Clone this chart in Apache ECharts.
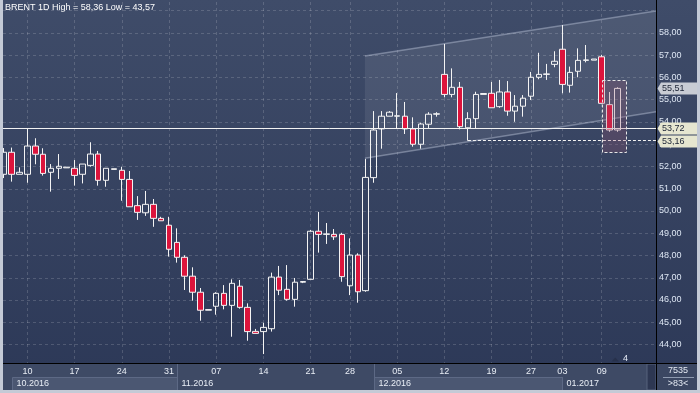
<!DOCTYPE html>
<html><head><meta charset="utf-8">
<script src="https://cdn.jsdelivr.net/npm/echarts@6/dist/echarts.min.js"></script>
<style>html,body{margin:0;padding:0;background:#2f3b58;}#c{width:700px;height:393px;}</style>
</head><body><div id="c"></div>
<script>
// ---- data ----
const dates = [
 '2016-10-06','2016-10-07','2016-10-09','2016-10-10','2016-10-11','2016-10-12','2016-10-13','2016-10-14',
 '2016-10-16','2016-10-17','2016-10-18','2016-10-19','2016-10-20','2016-10-21','2016-10-23','2016-10-24',
 '2016-10-25','2016-10-26','2016-10-27','2016-10-28','2016-10-30','2016-10-31','2016-11-01','2016-11-02',
 '2016-11-03','2016-11-04','2016-11-06','2016-11-07','2016-11-08','2016-11-09','2016-11-10','2016-11-11',
 '2016-11-13','2016-11-14','2016-11-15','2016-11-16','2016-11-17','2016-11-18','2016-11-20','2016-11-21',
 '2016-11-22','2016-11-23','2016-11-24','2016-11-25','2016-11-28','2016-11-29','2016-11-30','2016-12-01',
 '2016-12-02','2016-12-04','2016-12-05','2016-12-06','2016-12-07','2016-12-08','2016-12-09','2016-12-11',
 '2016-12-12','2016-12-13','2016-12-14','2016-12-15','2016-12-16','2016-12-18','2016-12-19','2016-12-20',
 '2016-12-21','2016-12-22','2016-12-23','2016-12-27','2016-12-28','2016-12-29','2016-12-30','2017-01-03',
 '2017-01-04','2017-01-05','2017-01-06','2017-01-08','2017-01-09','2017-01-10','2017-01-11'
];
const opens = [
 51.65,52.64,51.65,51.65,52.92,52.55,51.74,51.92,51.94,51.92,51.65,52.05,52.56,51.38,51.87,51.83,
 51.42,50.24,49.92,50.30,49.67,49.36,48.59,47.92,47.07,46.35,45.54,45.72,46.30,45.76,46.62,45.67,
 44.59,44.58,44.71,47.03,46.48,46.03,46.80,46.93,49.09,48.95,48.95,48.95,46.64,48.02,46.42,51.50,
 53.69,54.26,54.26,54.26,53.69,53.00,53.90,54.35,56.14,55.24,55.56,53.74,54.15,55.24,55.29,54.69,
 55.35,54.49,54.71,55.16,56.01,56.14,56.59,57.27,55.65,56.28,56.77,56.78,56.93,54.78,53.64
];
const closes = [
 52.64,51.65,51.74,52.92,52.55,51.69,51.92,52.01,51.97,51.60,52.11,52.56,51.38,51.92,51.90,51.42,
 50.19,49.94,50.30,49.67,49.56,48.28,47.92,47.07,46.35,45.54,45.57,46.30,45.76,46.75,45.67,44.58,
 44.50,44.77,47.03,46.44,46.03,46.80,46.83,49.09,48.95,48.97,48.84,47.05,48.02,46.37,51.51,53.64,
 54.26,54.44,54.28,53.69,53.00,53.91,54.35,54.37,55.24,55.56,53.79,54.15,55.24,55.28,54.64,55.35,
 54.49,54.71,55.07,56.01,56.14,56.16,56.73,55.69,56.23,56.77,56.79,56.83,54.84,53.64,55.51
];
const lows = [
 51.48,51.32,51.65,51.27,52.10,51.59,50.87,51.44,51.94,51.14,51.24,51.99,51.14,51.09,51.87,50.46,
 50.19,49.60,49.78,49.29,49.56,47.95,47.68,46.45,45.97,45.07,45.54,45.34,45.58,44.35,45.61,44.17,
 44.49,43.57,44.58,46.22,45.97,45.70,46.76,46.93,48.13,48.52,48.70,46.82,46.22,45.88,46.37,51.27,
 52.80,54.26,53.70,53.46,52.89,52.80,53.72,54.24,55.11,55.11,53.67,53.16,53.72,55.24,54.64,54.64,
 54.28,54.01,54.24,54.99,55.92,55.89,56.46,55.29,55.32,56.01,56.68,56.78,54.84,53.56,53.56
];
const highs = [
 52.83,52.85,51.96,53.69,53.27,52.82,52.11,52.56,51.97,52.29,52.11,53.09,52.70,51.92,51.90,51.99,
 51.80,50.67,50.90,50.54,49.74,49.74,49.22,48.01,47.47,46.54,45.57,46.35,46.67,46.93,46.90,45.85,
 44.70,44.97,47.23,47.53,47.57,46.99,46.85,49.15,49.96,49.46,49.19,49.02,48.77,48.10,52.34,54.49,
 54.49,54.49,55.30,54.90,54.21,53.97,54.44,54.44,57.51,56.41,55.80,54.44,55.36,55.28,55.80,55.89,
 55.84,55.21,55.21,56.25,57.11,56.61,57.18,58.36,56.49,57.31,57.46,56.83,57.02,55.35,55.56
];
const dayLabelIdx = [3,9,15,21,27,33,39,44,50,56,62,67,71,76];
const monthNames = ['10.2016','11.2016','12.2016','01.2017'];
const monthStartIdx = [1,22,47,71];
const yLabelValues = [44,45,46,47,48,49,50,51,52,53,54,55,56,57,58];
const titleText = 'BRENT 1D High = 58,36 Low = 43,57';
const hLineValue = 53.72;
const lastClose = 55.51;
const lowLineValue = 53.16;
const lowLineStartIdx = 59;
const channelX = [45.9, 82.9];
const channelUpper = [56.97, 58.99];
const channelLower = [52.37, 54.46];
const boxX = [76, 79];
const boxY = [52.64, 55.87];
const markerCount = '4';
const panelTop = '7535';
const panelBottom = '>83<';

// ---- chart ----
const FONT = 'Liberation Sans, Arial, sans-serif';
const xMin = -0.1, xMax = 82.9;
const yMin = 43.169, yMax = 59.393;
const ohlc = dates.map((d, i) => [i, opens[i], closes[i], lows[i], highs[i]]);
const fmt = v => v.toFixed(2).replace('.', ',');

const chart = echarts.init(document.getElementById('c'), null, {renderer: 'canvas', width: 700, height: 393});
const gridLine = {color: 'rgba(255,255,255,0.16)', type: [3, 3], width: 1};

chart.setOption({
  animation: false,
  textStyle: {fontFamily: FONT},
  title: {text: titleText, left: 5, top: 3, padding: 0,
    textStyle: {color: '#ffffff', fontSize: 9, fontWeight: 'normal', fontFamily: FONT}},
  grid: {left: 3, right: 44, top: 2, bottom: 30, containLabel: false, outerBoundsMode: 'none'},
  xAxis: {
    type: 'value', min: xMin, max: xMax,
    axisLine: {show: false},
    axisTick: {show: false, customValues: dayLabelIdx},
    axisLabel: {customValues: dayLabelIdx, formatter: v => dates[Math.round(v)].slice(8, 10),
      color: '#e8edf5', fontSize: 9, margin: 4, fontFamily: FONT},
    splitLine: {show: true, lineStyle: gridLine}
  },
  yAxis: {
    type: 'value', position: 'right', min: yMin, max: yMax, minInterval: 1, maxInterval: 1, splitNumber: 16,
    axisLine: {show: false}, axisTick: {show: false},
    axisLabel: {formatter: v => (yLabelValues.indexOf(Math.round(v)) >= 0 && Math.abs(v - Math.round(v)) < 1e-6) ? fmt(v) : '',
      color: '#dde6f3', fontSize: 9, margin: 3, fontFamily: FONT},
    splitLine: {show: true, showMinLine: false, showMaxLine: false, lineStyle: gridLine}
  },
  series: [
    {
      type: 'custom', z: 1, silent: true, data: [[channelX[0], channelUpper[0]]],
      renderItem: function (params, api) {
        const p1 = api.coord([channelX[0], channelUpper[0]]);
        const p2 = api.coord([channelX[1], channelUpper[1]]);
        const p3 = api.coord([channelX[1], channelLower[1]]);
        const p4 = api.coord([channelX[0], channelLower[0]]);
        return {type: 'group', children: [
          {type: 'polygon', shape: {points: [p1, p2, p3, p4]}, style: {fill: 'rgba(255,255,255,0.08)'}},
          {type: 'line', shape: {x1: p1[0], y1: p1[1], x2: p2[0], y2: p2[1]}, style: {stroke: 'rgba(190,200,220,0.45)', lineWidth: 1.5}},
          {type: 'line', shape: {x1: p4[0], y1: p4[1], x2: p3[0], y2: p3[1]}, style: {stroke: 'rgba(190,200,220,0.45)', lineWidth: 1.5}}
        ]};
      }
    },
    {
      type: 'candlestick', z: 2, data: ohlc, barWidth: 6, clip: true,
      emphasis: {disabled: true},
      itemStyle: {color: 'rgba(0,0,0,0)', color0: '#dc143c', borderColor: '#f4f4f4', borderColor0: '#f4f4f4', borderWidth: 1},
      markLine: {
        symbol: ['none', 'none'], silent: true, animation: false, label: {show: false},
        data: [
          {yAxis: hLineValue, lineStyle: {color: '#f2f2f2', width: 1, type: 'solid'}},
          [{coord: [lowLineStartIdx, lowLineValue], lineStyle: {color: '#f2f2f2', width: 1, type: [3, 2]}},
           {coord: [xMax, lowLineValue]}]
        ]
      }
    },
    {
      type: 'custom', z: 5, silent: true, data: [[boxX[0], boxY[0]]],
      renderItem: function (params, api) {
        const a = api.coord([boxX[0], boxY[1]]);
        const b = api.coord([boxX[1], boxY[0]]);
        const x = Math.round(a[0]) + 0.5, y = Math.round(a[1]) + 0.5;
        return {type: 'rect', shape: {x: x, y: y, width: Math.round(b[0] - a[0]), height: Math.round(b[1] - a[1])},
          style: {fill: 'rgba(150,80,110,0.26)', stroke: '#e6e6e6', lineWidth: 1, lineDash: [3, 2]}};
      }
    }
  ]
});

// ---- decorations using axis pixel positions ----
const px = (x, y) => chart.convertToPixel({gridIndex: 0}, [x, y]);
const yOf = v => px(0, v)[1];
const xOf = i => px(i, 50)[0];
const g = [];
g.push({type: 'rect', z: -100, shape: {x: 0, y: 0, width: 700, height: 393},
  style: {fill: new echarts.graphic.LinearGradient(0, 0, 0, 1, [{offset: 0, color: '#3f4c69'}, {offset: 1, color: '#2c3857'}])}});
// x-axis panel
g.push({type: 'rect', z: -50, shape: {x: 3, y: 363, width: 694, height: 27}, style: {fill: '#3e4a65'}});
const mx = monthStartIdx.map(i => Math.round(xOf(i)) + 0.5);
const stripX = 647;
[0, 2].forEach(k => {
  const x0 = mx[k], x1 = (k + 1 < mx.length) ? mx[k + 1] : stripX;
  g.push({type: 'rect', z: -40, shape: {x: x0, y: 377.5, width: x1 - x0, height: 13}, style: {fill: '#4b5772', stroke: '#5d6985', lineWidth: 1}});
});
[1, 2].forEach(k => g.push({type: 'line', z: -30, shape: {x1: mx[k], y1: 364, x2: mx[k], y2: 390}, style: {stroke: '#5d6985', lineWidth: 1}}));
g.push({type: 'line', z: -30, shape: {x1: mx[3], y1: 377, x2: mx[3], y2: 390}, style: {stroke: '#5d6985', lineWidth: 1}});
monthNames.forEach((n, k) => g.push({type: 'text', z: 10, x: mx[k] + 4, y: 383.5,
  style: {text: n, fill: '#e8edf5', font: '9px ' + FONT, textVerticalAlign: 'middle', verticalAlign: 'middle'}}));
g.push({type: 'rect', z: -30, shape: {x: stripX, y: 364, width: 9, height: 26}, style: {fill: '#2d3752', stroke: '#56627d', lineWidth: 1}});
// axis lines
g.push({type: 'line', z: 50, shape: {x1: 3, y1: 363.5, x2: 697, y2: 363.5}, style: {stroke: '#000000', lineWidth: 1}});
g.push({type: 'line', z: 50, shape: {x1: 656.5, y1: 0, x2: 656.5, y2: 390}, style: {stroke: '#000000', lineWidth: 1}});
// bottom-right panel
g.push({type: 'rect', z: 40, shape: {x: 657, y: 364, width: 40, height: 26}, style: {fill: '#3b4762'}});
g.push({type: 'text', z: 60, x: 678, y: 370.5, style: {text: panelTop, fill: '#e3e9f2', font: '9px ' + FONT, align: 'center', verticalAlign: 'middle'}});
g.push({type: 'line', z: 60, shape: {x1: 663, y1: 377.5, x2: 694, y2: 377.5}, style: {stroke: '#8e9ab0', lineWidth: 1}});
g.push({type: 'text', z: 60, x: 678, y: 383.5, style: {text: panelBottom, fill: '#e3e9f2', font: '9px ' + FONT, align: 'center', verticalAlign: 'middle'}});
// marker
g.push({type: 'polygon', z: 60, shape: {points: [[611.5, 361.5], [619, 361.5], [615.2, 357.5]]}, style: {fill: '#27314b'}});
g.push({type: 'text', z: 60, x: 623, y: 358.5, style: {text: markerCount, fill: '#e8eef8', font: '9px ' + FONT, verticalAlign: 'middle'}});
// price tags
function tag(v, fill) {
  const yc = Math.round(yOf(v)) + 0.5;
  g.push({type: 'polygon', z: 70, shape: {points: [[657.5, yc], [661, yc - 6], [697, yc - 6], [697, yc + 6], [661, yc + 6]]}, style: {fill: fill}});
  g.push({type: 'text', z: 71, x: 662, y: yc, style: {text: fmt(v), fill: '#1c2436', font: '9px ' + FONT, verticalAlign: 'middle'}});
}
tag(lastClose, '#c8ccd4');
tag(hLineValue, '#e6e6d0');
tag(lowLineValue, '#e6e6d0');
// frame
g.push({type: 'rect', z: 90, shape: {x: 0, y: 0, width: 3, height: 393}, style: {fill: '#c4cad6'}});
g.push({type: 'rect', z: 90, shape: {x: 0, y: 390, width: 700, height: 3}, style: {fill: '#c4cad6'}});
g.push({type: 'rect', z: 90, shape: {x: 697, y: 0, width: 3, height: 393}, style: {fill: '#c4cad6'}});
chart.setOption({graphic: {elements: g}});
</script>
</body></html>
